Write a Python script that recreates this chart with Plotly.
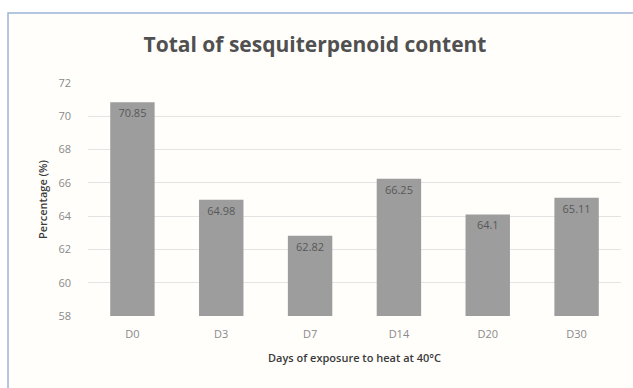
import plotly.graph_objects as go

categories = ["D0", "D3", "D7", "D14", "D20", "D30"]
values = [70.85, 64.98, 62.82, 66.25, 64.1, 65.11]
value_labels = ["70.85", "64.98", "62.82", "66.25", "64.1", "65.11"]
y_ticks = [58, 60, 62, 64, 66, 68, 70, 72]

W, H = 633, 388
L, R, T, B = 88, 12, 83, 72
pw, ph = W - L - R, H - T - B

def px_x(x):
    return (x - L) / pw

def px_y(y):
    return (H - B - y) / ph

fig = go.Figure()
fig.add_trace(go.Bar(
    x=categories, y=values, base=0,
    text=value_labels, textposition="inside", insidetextanchor="end",
    textfont=dict(color="#585858", size=11, family="Open Sans"),
    marker=dict(color="#9d9d9d", line=dict(width=0)),
    width=0.5, cliponaxis=True,
))

fig.add_shape(type="rect", xref="paper", yref="paper",
              x0=px_x(8), x1=px_x(640), y0=px_y(395), y1=px_y(13),
              line=dict(color="#9fb3d6", width=1.5), fillcolor="#fffefb", layer="below")

fig.update_layout(
    width=W, height=H,
    margin=dict(l=L, r=R, t=T, b=B),
    paper_bgcolor="white", plot_bgcolor="rgba(0,0,0,0)",
    showlegend=False,
    title=dict(text="<b>Total of sesquiterpenoid content</b>", x=px_x(315), xref="paper",
               y=1 - 45 / H, yref="container", xanchor="center", yanchor="middle",
               font=dict(family="Open Sans", size=21, color="#505050")),
    font=dict(family="Open Sans"),
    bargap=0.5,
)
fig.update_xaxes(
    showgrid=False, showline=False, zeroline=False, ticks="",
    tickfont=dict(size=11, color="#8a8a8a"), ticklabelstandoff=10,
    title=dict(text="Days of exposure to heat at 40°C",
               font=dict(size=11, color="#3a3a3a", weight=600), standoff=14),
)
fig.update_yaxes(
    range=[58, 72], tickvals=y_ticks, showgrid=True, gridcolor="#e4e4e4", gridwidth=1,
    zeroline=False, showline=False, ticks="", ticklen=0,
    tickfont=dict(size=11, color="#8a8a8a"), ticklabelstandoff=16,
    title=dict(text="Percentage (%)", font=dict(size=11, color="#3a3a3a", weight=600), standoff=8),
)

fig.write_html("out.html")
